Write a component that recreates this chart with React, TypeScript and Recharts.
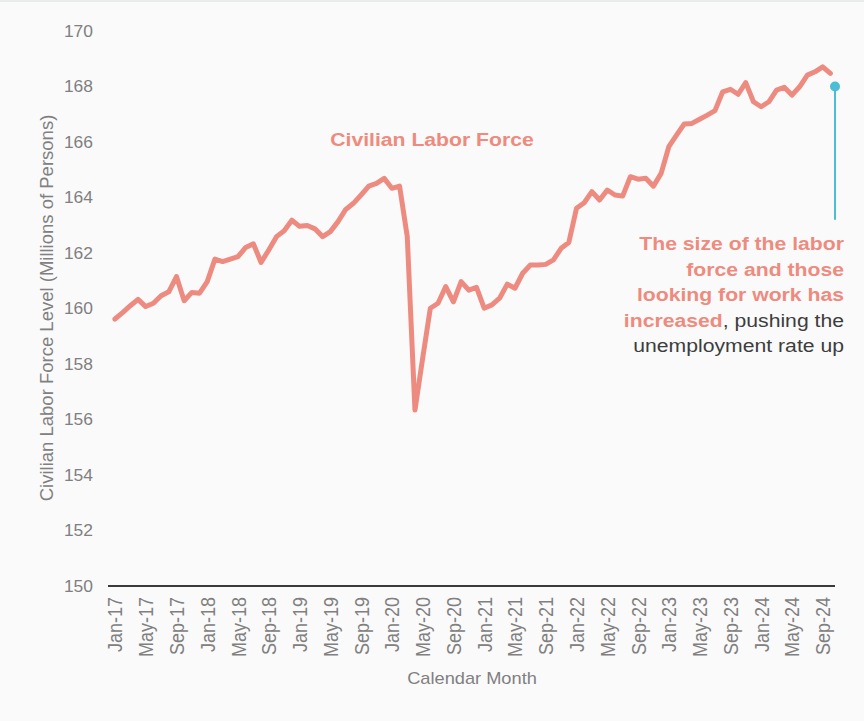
import { LineChart, Line, XAxis, YAxis, ReferenceDot, ReferenceLine, Customized } from 'recharts'

// tick labels, one every 4 months starting Jan-17
const tickLabels = [
  'Jan-17', 'May-17', 'Sep-17', 'Jan-18', 'May-18', 'Sep-18',
  'Jan-19', 'May-19', 'Sep-19', 'Jan-20', 'May-20', 'Sep-20',
  'Jan-21', 'May-21', 'Sep-21', 'Jan-22', 'May-22', 'Sep-22',
  'Jan-23', 'May-23', 'Sep-23', 'Jan-24', 'May-24', 'Sep-24',
]

// civilian labor force, millions, monthly Jan-17 .. Oct-24
const laborForce = [
  159.62, 159.85, 160.1, 160.33, 160.07, 160.19, 160.46, 160.6, 161.15, 160.28, 160.58, 160.55,
  160.97, 161.78, 161.69, 161.78, 161.87, 162.2, 162.33, 161.66, 162.11, 162.59, 162.8, 163.18,
  162.96, 162.99, 162.87, 162.59, 162.77, 163.13, 163.57, 163.79, 164.09, 164.41, 164.51, 164.69,
  164.33, 164.41, 162.59, 156.34, 158.2, 160.01, 160.19, 160.79, 160.24, 160.97, 160.66, 160.76,
  160.01, 160.13, 160.37, 160.88, 160.73, 161.27, 161.57, 161.57, 161.59, 161.75, 162.17, 162.38,
  163.61, 163.81, 164.21, 163.91, 164.27, 164.09, 164.05, 164.75, 164.66, 164.69, 164.41, 164.87,
  165.83, 166.25, 166.65, 166.67, 166.82, 166.97, 167.13, 167.81, 167.9, 167.72, 168.14, 167.45,
  167.27, 167.45, 167.87, 167.97, 167.69, 167.99, 168.41, 168.53, 168.71, 168.47,
]

const yTicks = [150, 152, 154, 156, 158, 160, 162, 164, 166, 168, 170]
const monthTicks = tickLabels.map((_, k) => k * 4)

// callout marker at the right edge
const markerX = 93.6
const markerTop = 168
const markerBottom = 163.2

const data = laborForce.map((v, i) => ({ month: i, value: v }))

const SALMON = '#ee8b80'
const CYAN = '#4bbed5'
const GREY = '#808080'
const FONT = '"Liberation Sans", Arial, sans-serif'

function MonthTick({ x, y, payload }: any) {
  const label = tickLabels[Math.round(payload.value / 4)]
  return (
    <g transform={`translate(${x + 7.5},${y}) scale(1.09,1) rotate(-90)`}>
      <text textAnchor="end" fill={GREY} fontSize={18} fontFamily={FONT}>
        {label}
      </text>
    </g>
  )
}

function ValueTick({ x, y, payload }: any) {
  return (
    <g transform={`translate(${x},${y}) scale(1.09,1)`}>
      <text textAnchor="end" dy="0.35em" fill={GREY} fontSize={16} fontFamily={FONT}>
        {payload.value}
      </text>
    </g>
  )
}

function AxisTitles() {
  return (
    <g fontFamily={FONT} fill={GREY}>
      <text transform="translate(52.5,308) rotate(-90)" textAnchor="middle" fontSize={18.5}>
        Civilian Labor Force Level (Millions of Persons)
      </text>
      <g transform="translate(472,683.5) scale(1.14,1)">
        <text textAnchor="middle" fontSize={16}>
          Calendar Month
        </text>
      </g>
    </g>
  )
}

export default function App() {
  return (
    <div
      style={{
        position: 'absolute',
        left: 0,
        top: 0,
        width: 864,
        height: 721,
        background: '#fafafa',
        fontFamily: FONT,
      }}
    >
      <div style={{ position: 'absolute', left: 0, top: 0, width: 864, height: 2, background: '#e9ecec' }} />
      <LineChart width={864} height={721} data={data} margin={{ top: 31, right: 29, left: 0, bottom: 0 }}>
        <XAxis
          dataKey="month"
          type="number"
          domain={[-0.9, 93.6]}
          ticks={monthTicks}
          interval={0}
          height={135}
          tickLine={false}
          tickSize={0}
          tickMargin={11}
          axisLine={{ stroke: '#3a3a3a', strokeWidth: 2 }}
          tick={<MonthTick />}
          allowDataOverflow
        />
        <YAxis
          type="number"
          domain={[150, 170]}
          ticks={yTicks}
          interval={0}
          width={108}
          axisLine={false}
          tickLine={false}
          tickSize={0}
          tickMargin={15}
          tick={<ValueTick />}
        />
        <Line
          type="linear"
          dataKey="value"
          stroke={SALMON}
          strokeWidth={5}
          strokeLinejoin="round"
          strokeLinecap="round"
          dot={false}
          activeDot={false}
          isAnimationActive={false}
        />
        <ReferenceLine
          segment={[
            { x: markerX, y: markerTop },
            { x: markerX, y: markerBottom },
          ]}
          stroke={CYAN}
          strokeWidth={2}
          ifOverflow="visible"
        />
        <ReferenceDot x={markerX} y={markerTop} r={5} fill={CYAN} stroke="none" ifOverflow="visible" />
        <Customized component={AxisTitles} />
      </LineChart>

      <div
        style={{
          position: 'absolute',
          left: 232,
          top: 130,
          width: 400,
          textAlign: 'center',
          fontSize: 17.5,
          lineHeight: '20px',
          fontWeight: 700,
          color: '#ef8a7e',
          transform: 'scaleX(1.21)',
          transformOrigin: 'center',
          whiteSpace: 'nowrap',
        }}
      >
        Civilian Labor Force
      </div>

      <div
        style={{
          position: 'absolute',
          left: 544,
          top: 232,
          width: 300,
          textAlign: 'right',
          fontSize: 17.5,
          lineHeight: '25.5px',
          color: '#3d3d3d',
          transform: 'scaleX(1.21)',
          transformOrigin: 'right',
          whiteSpace: 'nowrap',
        }}
      >
        <span style={{ color: '#ef8a7e', fontWeight: 700 }}>The size of the labor</span>
        <br />
        <span style={{ color: '#ef8a7e', fontWeight: 700 }}>force and those</span>
        <br />
        <span style={{ color: '#ef8a7e', fontWeight: 700 }}>looking for work has</span>
        <br />
        <span style={{ color: '#ef8a7e', fontWeight: 700 }}>increased</span>, pushing the
        <br />
        unemployment rate up
      </div>
    </div>
  )
}
